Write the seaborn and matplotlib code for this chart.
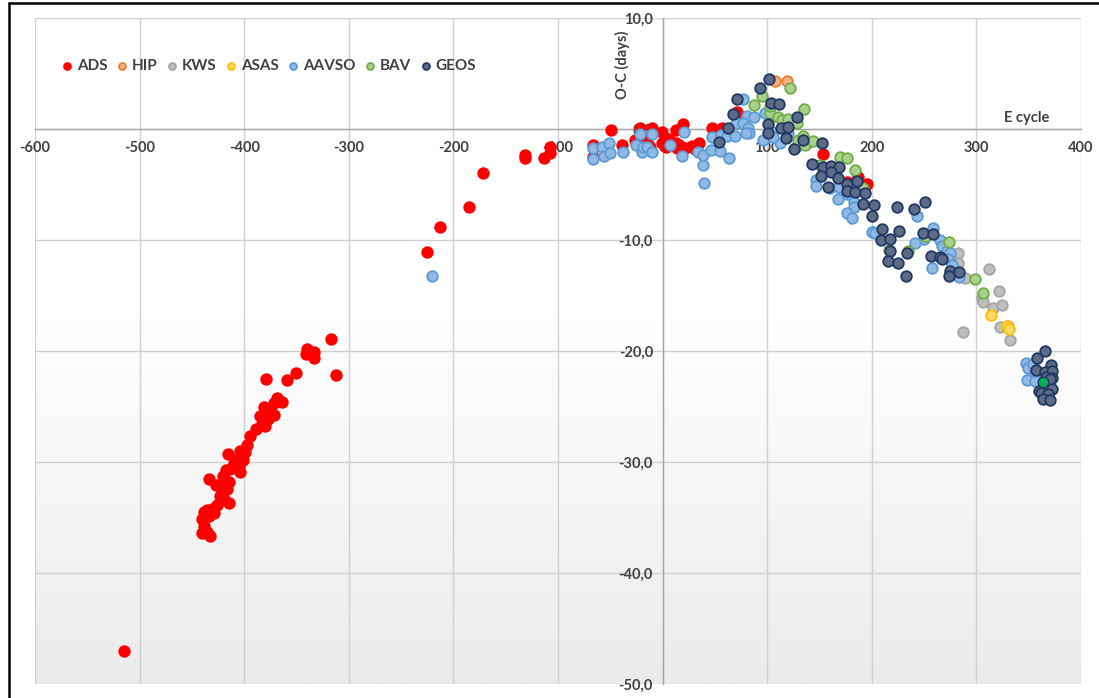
import numpy as np
import pandas as pd
import matplotlib
matplotlib.use("Agg")
import matplotlib.pyplot as plt
from matplotlib.colors import LinearSegmentedColormap
from matplotlib.lines import Line2D
from matplotlib.ticker import MultipleLocator, FuncFormatter
import seaborn as sns

# O-C values, one pair of lists per source
ads_e = [-514.5, -440.4, -438.8, -435.6, -432.4, -440.4, -438.2, -435.6, -434.1, -430.8, -429.3,
         -426.0, -422.9, -419.7, -415.0, -416.5, -434.1, -420.3, -415.0, -426.7, -421.3,
         -410.2, -405.4, -413.3, -417.4, -403.8, -404.4, -406.9, -401.2, -415.5,
         -394.9, -397.4, -399.0, -388.5, -384.7, -377.7, -371.3, -379.9, -381.0, -383.0,
         -368.7, -363.9, -371.9, -381.5, -375.1, -379.2, -359.2, -350.3,
         -340.0, -340.7, -333.7, -332.8, -317.1, -312.4,
         -224.8, -212.4, -185.3, -171.6, -131.5, -131.5, -113.6, -107.9, -107.9, -66.2, -66.2,
         -49.6, -39.1, -26.4, -21.6, -18.0, -15.2, -12.0, -9.8, -0.3, -0.3, 3.0, 6.4, 12.8, 12.8,
         13.4, 16.0, 19.8, 21.4, 28.0, 31.0, 34.8, 46.9, 56.5, 70.8, 71.4, 153.6, 175.9, 186.4, 195.0]
ads_oc = [-47.0, -36.4, -35.8, -36.3, -36.7, -35.1, -34.5, -34.3, -34.9, -34.2, -34.6,
          -33.9, -33.1, -33.3, -33.7, -32.4, -31.5, -31.3, -31.8, -32.1, -32.2,
          -30.1, -30.4, -30.6, -30.7, -30.9, -29.0, -29.7, -29.8, -29.3,
          -27.7, -28.5, -29.1, -27.0, -25.9, -26.1, -25.8, -26.8, -26.3, -26.6,
          -24.2, -24.6, -24.7, -25.0, -25.2, -22.5, -22.6, -22.0,
          -19.85, -20.3, -20.1, -20.6, -18.9, -22.2,
          -11.05, -8.8, -7.0, -4.0, -2.3, -2.6, -2.65, -1.65, -2.2, -1.45, -2.5,
          -0.05, -1.44, -1.0, 0.06, -0.9, -1.14, -1.6, 0.12, -0.24, -1.3, -1.6, -0.9, -0.1, -1.23,
          -1.74, -1.4, 0.42, -1.74, -1.5, -1.83, -1.3, 0.12, 0.06, 1.56, 0.6, -2.28, -4.75, -4.35, -4.95]

hip_e = [107.4, 119.2]
hip_oc = [4.32, 4.32]

kws_e = [282.0, 282.0, 289.0, 312.2, 321.7, 304.9, 306.4, 315.4, 324.0, 322.4, 330.3, 331.9, 287.3]
kws_oc = [-11.2, -12.1, -13.4, -12.6, -14.6, -15.25, -15.55, -16.1, -15.86, -17.8, -17.75, -19.0, -18.3]

asas_e = [314.4, 328.8, 331.0]
asas_oc = [-16.76, -17.75, -18.0]

aavso_e = [-220.6, -66.2, -66.2, -58.2, -56.0, -51.2, -50.3, -37.5, -25.4, -21.6, -20.0, -18.4, -15.2,
           -10.4, -9.8, 7.1, 18.2, 20.4, 33.5, 38.3, 38.9, 39.6, 46.2, 47.5, 54.8, 55.8, 63.7,
           77.1, 80.4, 87.3, 97.8, 70.1, 77.1, 81.9, 82.8, 79.4, 61.8, 69.2, 96.2, 104.2, 112.2,
           105.2, 120.1, 128.0, 138.0, 146.3, 146.6, 160.0, 168.8, 167.9, 175.9, 182.9, 182.9, 175.9,
           180.7, 201.3, 242.8, 199.8, 202.9, 258.1, 249.8, 241.2, 265.1, 266.7, 272.0, 274.6,
           273.0, 276.2, 257.1, 283.2, 347.2, 349.4, 354.2, 355.8, 348.5, 355.8]
aavso_oc = [-13.2, -1.74, -2.73, -1.65, -2.43, -1.23, -2.2, -2.04, -1.44, -0.48, -2.04, -1.6, -1.6,
            -2.1, -0.48, -1.44, -2.4, -0.24, -2.04, -3.24, -2.34, -4.9, -1.9, -0.75, -1.98, -0.54, -2.6,
            2.67, 1.17, 1.1, 1.47, 0.51, 0.51, 0.06, -0.39, -0.39, -0.6, -0.63, -0.99, -0.24, -1.23,
            -0.69, -0.39, -1.6, -1.3, -4.6, -5.14, -5.3, -5.2, -6.33, -5.86, -6.55, -7.0, -7.54,
            -8.05, -9.3, -7.84, -9.3, -9.34, -8.95, -9.94, -10.24, -10.0, -10.54, -10.99, -11.14,
            -11.7, -12.25, -12.55, -13.3, -21.05, -21.56, -21.17, -21.86, -22.6, -22.7]

bav_e = [121.7, 95.3, 87.6, 102.6, 103.0, 110.6, 113.8, 120.1, 128.1, 135.4, 129.7, 134.5, 136.0,
         143.4, 150.4, 169.5, 176.5, 184.1, 191.8, 274.0, 234.8, 216.6, 298.5, 306.4, 250.7]
bav_oc = [3.66, 3.0, 2.16, 1.41, 2.1, 1.1, 0.8, 0.87, 0.51, 1.77, -1.0, -0.63, -1.44,
          -1.05, -3.24, -2.55, -2.64, -3.7, -5.35, -10.15, -11.0, -10.9, -13.5, -14.75, -9.6]

geos_e = [102.0, 93.1, 71.4, 103.3, 111.2, 67.0, 128.7, 101.0, 113.1, 120.1, 100.4, 62.8, 54.2,
          117.9, 125.8, 134.5, 152.6, 143.0, 153.6, 160.6, 168.8, 160.6, 151.0, 167.9, 185.4, 175.9,
          158.3, 175.9, 183.8, 193.4, 191.8, 202.3, 199.8, 223.7, 209.3,
          240.5, 251.0, 226.2, 208.4, 217.3, 249.1, 258.1, 217.3, 233.2, 215.7, 225.2, 232.6,
          256.2, 265.1, 266.7, 274.6, 283.2, 273.6,
          365.4, 358.0, 371.1, 356.8, 365.4, 372.7, 367.0, 372.7, 370.2, 363.2, 372.7, 359.6,
          362.2, 368.5, 363.2, 370.2]
geos_oc = [4.48, 3.66, 2.67, 2.37, 2.25, 1.32, 1.05, 0.45, 0.12, 0.21, -0.33, 0.06, -1.14,
           -0.78, -1.83, -0.99, -1.23, -3.15, -3.4, -3.3, -3.4, -3.9, -4.2, -4.4, -4.65, -4.95,
           -5.25, -5.6, -5.65, -5.74, -6.75, -6.85, -7.8, -7.05, -9.0,
           -7.2, -6.55, -9.2, -10.0, -9.94, -9.34, -9.46, -10.96, -11.2, -11.9, -12.1, -13.2,
           -11.44, -11.56, -11.68, -12.8, -12.86, -13.24,
           -19.97, -20.66, -21.3, -21.7, -21.9, -21.8, -22.3, -22.4, -22.55, -23.3, -23.4, -23.6,
           -23.8, -23.9, -24.3, -24.4]

extra_e = [363.5]
extra_oc = [-22.8]

series = [
    ("ADS", ads_e, ads_oc, "#ff0000", "#ff0000"),
    ("HIP", hip_e, hip_oc, "#f4b183", "#ed7d31"),
    ("KWS", kws_e, kws_oc, "#bfbfbf", "#a5a5a5"),
    ("ASAS", asas_e, asas_oc, "#ffd966", "#ffc000"),
    ("AAVSO", aavso_e, aavso_oc, "#92b8e4", "#5b9bd5"),
    ("BAV", bav_e, bav_oc, "#a9d18e", "#70ad47"),
    ("GEOS", geos_e, geos_oc, "#5d6b86", "#1f3864"),
]

sns.set_style("white")
plt.rcParams["font.family"] = ["Lato", "DejaVu Sans"]
plt.rcParams["axes.unicode_minus"] = False

fig = plt.figure(figsize=(10.99, 6.98), dpi=100)
ax = fig.add_axes([35 / 1099, 1 - 684 / 698, (1081 - 35) / 1099, (684 - 18) / 698])

# plot-area gradient: white at the top, light grey towards the bottom
yy = np.linspace(10, -50, 300)
shade = np.clip((-17 - yy) / 33, 0, 1)[:, None]
cmap = LinearSegmentedColormap.from_list("bg", ["#ffffff", "#ebebeb"])
ax.imshow(shade, extent=[-600, 400, -50, 10], aspect="auto", cmap=cmap, vmin=0, vmax=1,
          zorder=-1, interpolation="bilinear")

for name, e, oc, face, edge in series:
    df = pd.DataFrame({"E": e, "OC": oc})
    sns.scatterplot(data=df, x="E", y="OC", ax=ax, s=58, color=face, edgecolor=edge,
                    linewidth=1.3, label=name, zorder=3)
sns.scatterplot(x=extra_e, y=extra_oc, ax=ax, s=58, color="#00b050", edgecolor="#1f3864",
                linewidth=1.0, zorder=4)

ax.set_xlim(-600, 400)
ax.set_ylim(-50, 10)
ax.set_axisbelow(True)
ax.xaxis.set_major_locator(MultipleLocator(100))
ax.xaxis.set_minor_locator(MultipleLocator(50))
ax.yaxis.set_major_locator(MultipleLocator(10))
ax.yaxis.set_minor_locator(MultipleLocator(5))
ax.grid(True, which="major", color="#d0d0d0", lw=1)

for s in ["top", "right"]:
    ax.spines[s].set_visible(False)
ax.spines["left"].set_position(("data", 0))
ax.spines["bottom"].set_position(("data", 0))
for s in ["left", "bottom"]:
    ax.spines[s].set_color("#a6a6a6")
    ax.spines[s].set_linewidth(1)

ax.xaxis.set_major_formatter(FuncFormatter(lambda v, p: "%d" % v))
ax.yaxis.set_major_formatter(FuncFormatter(lambda v, p: ("%.1f" % v).replace(".", ",")))
ax.tick_params(axis="x", which="major", length=0, pad=9, labelsize=10.5, labelcolor="#404040")
ax.tick_params(axis="x", which="minor", length=4, direction="inout", color="#a6a6a6")
ax.tick_params(axis="y", which="major", length=4, direction="out", color="#a6a6a6",
               pad=3, labelsize=10.5, labelcolor="#404040")
ax.tick_params(axis="y", which="minor", length=4, direction="out", color="#a6a6a6")
for lab in ax.get_xticklabels() + ax.get_yticklabels():
    lab.set_fontweight("bold")

ax.set_xlabel("")
ax.set_ylabel("")
ax.text(-38, 5.8, "O-C (days)", rotation=90, ha="center", va="center", fontsize=10.5,
        fontweight="bold", color="#404040")
ax.text(348, 1.0, "E cycle", ha="center", va="center", fontsize=10.5, fontweight="bold",
        color="#404040")

leg = ax.legend(loc="center left", bbox_to_anchor=(63 / 1099, 1 - 66 / 698),
                bbox_transform=fig.transFigure, ncol=7, frameon=False, borderpad=0,
                borderaxespad=0, handlelength=0.5, handletextpad=0.4, columnspacing=0.7,
                markerscale=0.65, prop={"weight": "bold", "size": 11})
for t in leg.get_texts():
    t.set_color("#404040")

# black frame on the top and left of the screenshot
fig.add_artist(Line2D([9 / 1099, 1], [1 - 3 / 698, 1 - 3 / 698], color="black", lw=1.8))
fig.add_artist(Line2D([9 / 1099, 9 / 1099], [0, 1 - 3 / 698], color="black", lw=1.8))

fig.savefig("out.png", dpi=100, facecolor="white")
